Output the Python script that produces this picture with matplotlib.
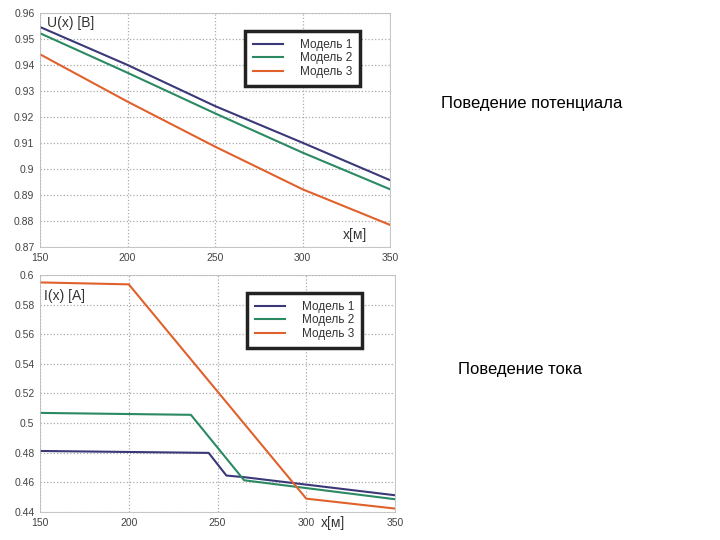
import matplotlib
matplotlib.use("Agg")
import matplotlib.pyplot as plt

plt.rcParams["font.family"] = ["Liberation Sans", "DejaVu Sans"]

# potential U(x)
x_u = [150, 200, 250, 300, 350]
u_m1 = [0.9546, 0.9400, 0.9242, 0.9101, 0.8957]
u_m2 = [0.9522, 0.9370, 0.9214, 0.9063, 0.8922]
u_m3 = [0.9441, 0.9259, 0.9086, 0.8922, 0.8785]

# current I(x)
x_i1 = [150, 245, 255, 265, 350]
i_m1 = [0.4812, 0.4799, 0.4646, 0.4635, 0.4513]
x_i2 = [150, 235, 265, 350]
i_m2 = [0.5069, 0.5056, 0.4614, 0.4486]
x_i3 = [150, 200, 300, 350]
i_m3 = [0.5950, 0.5937, 0.4490, 0.4423]

u_ticks = [0.96, 0.95, 0.94, 0.93, 0.92, 0.91, 0.90, 0.89, 0.88, 0.87]
u_labels = ["0.96", "0.95", "0.94", "0.93", "0.92", "0.91", "0.9", "0.89", "0.88", "0.87"]
i_ticks = [0.6, 0.58, 0.56, 0.54, 0.52, 0.5, 0.48, 0.46, 0.44]
i_labels = ["0.6", "0.58", "0.56", "0.54", "0.52", "0.5", "0.48", "0.46", "0.44"]
x_ticks = [150, 200, 250, 300, 350]
names = ["Модель 1", "Модель 2", "Модель 3"]
colors = ["#3a3878", "#2b8a62", "#e0612b"]

fig = plt.figure(figsize=(7.2, 5.4), dpi=100)
ax1 = fig.add_axes([0.0556, 0.5426, 0.4861, 0.4334])
ax2 = fig.add_axes([0.0556, 0.0519, 0.4930, 0.4388])


def style(ax, yt, yl, ylim):
    ax.set_xlim(150, 350)
    ax.set_ylim(*ylim)
    ax.set_xticks(x_ticks)
    ax.set_xticklabels([str(v) for v in x_ticks])
    ax.set_yticks(yt)
    ax.set_yticklabels(yl)
    ax.tick_params(labelsize=7.5, length=0, pad=4, colors="#444444")
    ax.grid(True, linestyle=":", color="#aaaaaa", linewidth=0.9)
    for s in ax.spines.values():
        s.set_color("#bbbbbb")
        s.set_linewidth(0.6)


def legend(ax, anchor):
    leg = ax.legend(loc="upper left", bbox_to_anchor=anchor, fontsize=8.5,
                    fancybox=False, framealpha=1, handlelength=2.6,
                    handletextpad=1.4, labelspacing=0.15, borderpad=0.65,
                    borderaxespad=0)
    leg.get_frame().set_edgecolor("#222222")
    leg.get_frame().set_linewidth(2.5)
    for t in leg.get_texts():
        t.set_color("#333333")


for x, y, c, n in [(x_u, u_m1, colors[0], names[0]),
                   (x_u, u_m2, colors[1], names[1]),
                   (x_u, u_m3, colors[2], names[2])]:
    ax1.plot(x, y, color=c, lw=1.5, label=n)
style(ax1, u_ticks, u_labels, (0.87, 0.96))
legend(ax1, (0.586, 0.923))
ax1.text(0.02, 0.985, "U(x) [B]", transform=ax1.transAxes, fontsize=10,
         va="top", ha="left", color="#333333")
ax1.text(0.935, 0.02, "x[м]", transform=ax1.transAxes, fontsize=10,
         va="bottom", ha="right", color="#333333")

for x, y, c, n in [(x_i1, i_m1, colors[0], names[0]),
                   (x_i2, i_m2, colors[1], names[1]),
                   (x_i3, i_m3, colors[2], names[2])]:
    ax2.plot(x, y, color=c, lw=1.5, label=n)
style(ax2, i_ticks, i_labels, (0.44, 0.6))
legend(ax2, (0.583, 0.924))
ax2.text(0.01, 0.94, "I(x) [A]", transform=ax2.transAxes, fontsize=10,
         va="top", ha="left", color="#333333")
ax2.text(0.86, -0.015, "x[м]", transform=ax2.transAxes, fontsize=10,
         va="top", ha="right", color="#333333")

fig.text(0.6125, 0.808, "Поведение потенциала", fontsize=12, va="center", ha="left")
fig.text(0.636, 0.315, "Поведение тока", fontsize=12, va="center", ha="left")

fig.savefig("out.png", dpi=100)
